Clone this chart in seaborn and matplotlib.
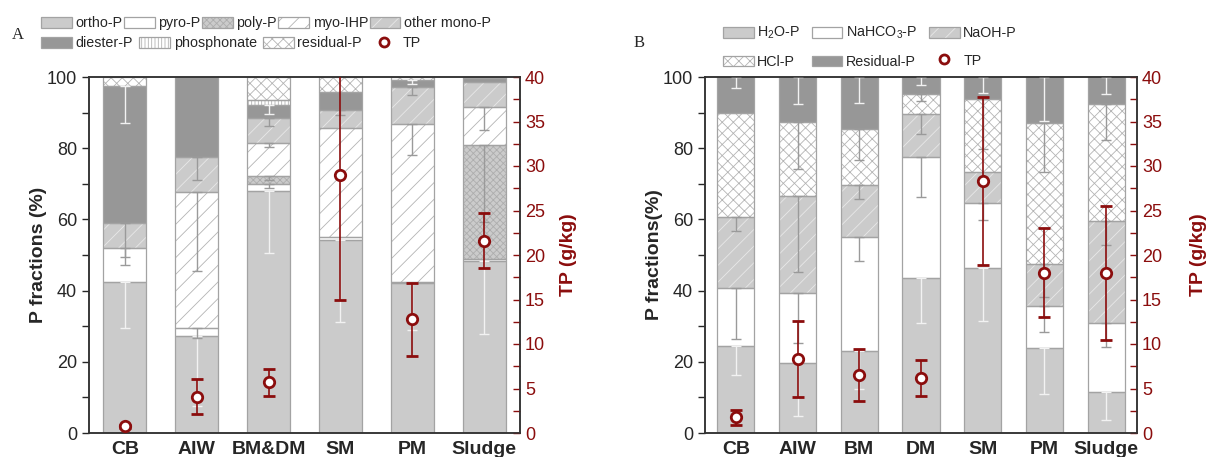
import numpy as np
import matplotlib
matplotlib.use("Agg")
import matplotlib.pyplot as plt
from matplotlib.patches import Patch
from matplotlib.lines import Line2D
from matplotlib.legend_handler import HandlerTuple
import seaborn as sns

sns.set_style("ticks")
plt.rcParams['font.family'] = ['Liberation Sans', 'DejaVu Sans']
plt.rcParams['mathtext.fontset'] = 'custom'
plt.rcParams['mathtext.rm'] = 'Liberation Sans'
plt.rcParams['mathtext.default'] = 'regular'
plt.rcParams['hatch.linewidth'] = 0.6

# ---------------- data: panel A (P species, %) ----------------
cats_a = ['CB', 'AIW', 'BM&DM', 'SM', 'PM', 'Sludge']
ortho_a = [42.3, 27.3, 67.9, 54.2, 42.1, 48.3]
pyro_a = [9.8, 2.1, 2.0, 0.9, 0.4, 0.6]
poly_a = [0.0, 0.0, 2.2, 0.0, 0.0, 32.1]
myo_a = [0.0, 38.4, 9.3, 30.7, 44.4, 10.6]
mono_a = [7.0, 9.6, 7.2, 4.9, 10.3, 7.0]
diester_a = [38.3, 22.6, 3.5, 5.1, 1.9, 1.2]
phosph_a = [0.0, 0.0, 1.5, 0.0, 0.0, 0.0]
resid_a = [2.6, 0.0, 6.4, 4.2, 0.9, 0.2]

ortho_err_a = [12.8, 19.8, 17.2, 22.9, 13.1, 20.5]
pyro_err_a = [2.6, 2.8, 1.2, 0.0, 0.0, 0.0]
poly_err_a = [0.0, 0.0, 1.1, 0.0, 0.0, 21.7]
myo_err_a = [0.0, 22.3, 1.2, 0.0, 8.7, 6.6]
mono_err_a = [12.0, 6.4, 2.4, 1.3, 2.3, 0.0]
diester_err_a = [10.2, 0.0, 2.4, 0.0, 1.0, 0.0]

tp_a = [0.75, 4.1, 5.7, 29.0, 12.8, 21.6]
tp_err_a = [0.2, 2.0, 1.5, 14.0, 4.1, 3.1]

# ---------------- data: panel B (sequential fractionation, %) ----------------
cats_b = ['CB', 'AIW', 'BM', 'DM', 'SM', 'PM', 'Sludge']
h2o_b = [24.3, 19.6, 23.1, 43.5, 46.3, 23.8, 11.5]
nahco3_b = [16.3, 19.7, 31.9, 34.1, 18.2, 12.0, 19.3]
naoh_b = [20.0, 27.2, 14.6, 11.9, 8.9, 11.6, 28.8]
hcl_b = [29.4, 20.9, 15.9, 5.8, 20.3, 39.8, 32.9]
resid_b = [10.0, 12.6, 14.5, 4.7, 6.3, 12.8, 7.5]

h2o_err_b = [7.9, 14.7, 10.8, 12.7, 14.8, 12.9, 7.8]
nahco3_err_b = [14.1, 13.9, 6.7, 11.4, 4.7, 7.5, 6.7]
naoh_err_b = [3.9, 21.2, 4.0, 5.6, 0.0, 9.3, 6.8]
hcl_err_b = [0.0, 13.3, 8.9, 2.1, 13.8, 14.0, 10.3]
resid_err_b = [3.0, 7.7, 7.2, 2.3, 4.4, 12.3, 4.9]

tp_b = [1.76, 8.3, 6.5, 6.2, 28.3, 18.0, 18.0]
tp_err_b = [0.85, 4.25, 2.9, 2.0, 9.4, 5.0, 7.5]

# ---------------- styles ----------------
GREY = '#cbcbcb'
DARK = '#979797'
EDGE = '#a3a3a3'
RED = '#8b0d0d'
LIGHT_ERR = '#f2f2f2'
GREY_ERR = '#9a9a9a'

# (face, hatch, hatch colour, error colour)
sty = {
    'ortho': (GREY, '', GREY, LIGHT_ERR),
    'pyro': ('white', '', 'white', GREY_ERR),
    'poly': (GREY, 'xxxxx', '#adadad', GREY_ERR),
    'myo': ('white', '//', '#b4b4b4', GREY_ERR),
    'mono': (GREY, '//', '#e8e8e8', GREY_ERR),
    'diester': (DARK, '', DARK, LIGHT_ERR),
    'phosph': ('white', '|||||', '#b4b4b4', GREY_ERR),
    'resid': ('white', 'xxx', '#b4b4b4', GREY_ERR),
    'resid_dark': (DARK, '', DARK, LIGHT_ERR),
}

W = 0.6


def stacked(ax, cats, layers):
    x = np.arange(len(cats))
    bottom = np.zeros(len(cats))
    for vals, errs, key in layers:
        vals = np.array(vals, dtype=float)
        face, hatch, hcol, ecol = sty[key]
        sns.barplot(x=cats, y=vals, bottom=bottom, color=face, saturation=1,
                    hatch=hatch, edgecolor=hcol, linewidth=0, width=W,
                    errorbar=None, ax=ax, zorder=2)
        m = vals > 0
        ax.bar(x[m], vals[m], bottom=bottom[m], width=W, fill=False,
               edgecolor=EDGE, linewidth=0.9, zorder=2.5)
        top = bottom + vals
        if errs is not None:
            errs = np.array(errs, dtype=float)
            e = errs > 0
            ax.errorbar(x[e], top[e], yerr=[errs[e], np.zeros(e.sum())],
                        fmt='none', ecolor=ecol, elinewidth=1.0, capsize=3.5,
                        capthick=1.0, zorder=3)
        bottom = top
    return x


def decorate(ax, x, tp, tp_err, ylabel, rpad):
    ax.set_ylim(0, 100)
    ax.set_xlim(-0.5, len(x) - 0.5)
    ax.set_yticks(np.arange(0, 101, 20))
    ax.set_yticks(np.arange(10, 100, 20), minor=True)
    ax.tick_params(axis='y', which='both', direction='out', length=5,
                   width=1, labelsize=13)
    ax.tick_params(axis='x', length=0, labelsize=14, pad=6)
    for lab in ax.get_xticklabels():
        lab.set_fontweight('bold')
    ax.set_xlabel('')
    ax.set_ylabel(ylabel, fontsize=14, fontweight='bold', labelpad=0)
    for s in ax.spines.values():
        s.set_visible(True)
        s.set_linewidth(1.1)
        s.set_color('#333333')

    ax2 = ax.twinx()
    ax2.errorbar(x, tp, yerr=tp_err, fmt='o', color=RED, mfc='white',
                 mec=RED, ms=7.5, mew=2, ecolor=RED, elinewidth=1.2,
                 capsize=4, capthick=1.2, zorder=5)
    ax2.set_ylim(0, 40)
    ax2.set_yticks(np.arange(0, 41, 5))
    ax2.set_yticks(np.arange(2.5, 40, 5), minor=True)
    ax2.tick_params(axis='y', which='both', direction='in', length=5,
                    width=1, color=RED, labelsize=13, labelcolor=RED)
    ax2.set_ylabel('TP (g/kg)', fontsize=14, fontweight='bold', color=RED,
                   labelpad=rpad)
    for s in ax2.spines.values():
        s.set_linewidth(1.1)
        s.set_color('#333333')
    return ax2


fig = plt.figure(figsize=(12.09, 4.57), dpi=100)
axA = fig.add_axes([89 / 1209, 24 / 457, 431 / 1209, 356 / 457])
axB = fig.add_axes([705 / 1209, 24 / 457, 432 / 1209, 356 / 457])

xa = stacked(axA, cats_a, [
    (ortho_a, ortho_err_a, 'ortho'),
    (pyro_a, pyro_err_a, 'pyro'),
    (poly_a, poly_err_a, 'poly'),
    (myo_a, myo_err_a, 'myo'),
    (mono_a, mono_err_a, 'mono'),
    (diester_a, diester_err_a, 'diester'),
    (phosph_a, None, 'phosph'),
    (resid_a, None, 'resid'),
])
decorate(axA, xa, tp_a, tp_err_a, 'P fractions (%)', 11)

xb = stacked(axB, cats_b, [
    (h2o_b, h2o_err_b, 'ortho'),
    (nahco3_b, nahco3_err_b, 'pyro'),
    (naoh_b, naoh_err_b, 'mono'),
    (hcl_b, hcl_err_b, 'resid'),
    (resid_b, resid_err_b, 'resid_dark'),
])
decorate(axB, xb, tp_b, tp_err_b, 'P fractions(%)', 20)


def outlined(key):
    face, hatch, hcol, _ = sty[key]
    return (Patch(facecolor=face, hatch=hatch, edgecolor=hcol, linewidth=0),
            Patch(fill=False, edgecolor=EDGE, linewidth=0.9))


tp_handle = Line2D([], [], ls='none', marker='o', mfc='white', mec=RED,
                   mew=2, ms=6.5)

leg_kw = dict(frameon=False, fontsize=10.3, handlelength=2.15,
              handleheight=0.8, handletextpad=0.25, borderpad=0,
              borderaxespad=0, loc='center left',
              handler_map={tuple: HandlerTuple(ndivide=1, pad=0)})

row1 = ['ortho', 'pyro', 'poly', 'myo', 'mono']
fig.legend([outlined(k) for k in row1],
           ['ortho-P', 'pyro-P', 'poly-P', 'myo-IHP', 'other mono-P'],
           ncol=5, columnspacing=0.1,
           bbox_to_anchor=(41 / 1209, 1 - 23 / 457), **leg_kw)
fig.legend([outlined('diester'), outlined('phosph'), outlined('resid'), tp_handle],
           ['diester-P', 'phosphonate', 'residual-P', 'TP'],
           ncol=4, columnspacing=0.45,
           bbox_to_anchor=(41 / 1209, 1 - 43 / 457), **leg_kw)

handles_b = [outlined('ortho'), outlined('resid'), outlined('pyro'),
             outlined('resid_dark'), outlined('mono'), tp_handle]
labels_b = ['H$_2$O-P', 'HCl-P', 'NaHCO$_3$-P', 'Residual-P', 'NaOH-P', 'TP']
fig.legend(handles_b, labels_b, ncol=3, columnspacing=0.8, labelspacing=0.95,
           bbox_to_anchor=(723 / 1209, 1 - 47 / 457), **leg_kw)

fig.text(12 / 1209, 1 - 35 / 457, 'A', family=['Liberation Serif', 'DejaVu Serif'],
         fontsize=12, va='center')
fig.text(634 / 1209, 1 - 43 / 457, 'B', family=['Liberation Serif', 'DejaVu Serif'],
         fontsize=12, va='center')

fig.savefig('out.png', dpi=100)
